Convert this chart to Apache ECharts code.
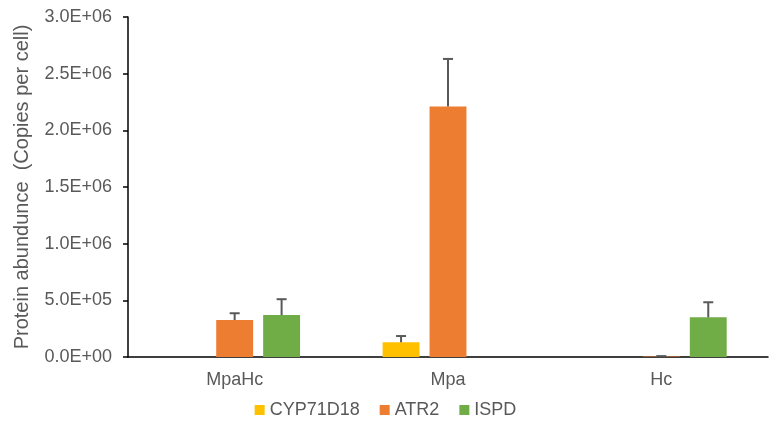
<!DOCTYPE html>
<html>
<head>
<meta charset="utf-8">
<script src="https://cdn.jsdelivr.net/npm/echarts@6/dist/echarts.min.js"></script>
<style>
  html, body { margin: 0; padding: 0; background: #fff; }
  #chart { width: 771px; height: 430px; }
</style>
</head>
<body>
<div id="chart"></div>
<script>
// Sample groups on the x axis
const categories = ['MpaHc', 'Mpa', 'Hc'];
// Protein abundance (copies per cell) and standard deviations
const cyp71d18 = [0, 130000, 0];
const cyp71d18Err = [0, 55000, 0];
const atr2 = [326000, 2210000, 5000];
const atr2Err = [60000, 420000, 3000];
const ispd = [370000, 0, 350000];
const ispdErr = [140000, 0, 133000];
const seriesNames = ['CYP71D18', 'ATR2', 'ISPD'];
const colors = ['#FFC000', '#ED7D31', '#70AD47'];

const BAR_FRAC = 0.173;   // bar width as share of the category band
const GAP_FRAC = 0.047;   // space between neighbouring bars in a group

function sci(v) {
  if (v === 0) return '0.0E+00';
  const e = Math.floor(Math.log10(v));
  const m = v / Math.pow(10, e);
  const es = (e < 10 ? '0' : '') + e;
  return m.toFixed(1) + 'E+' + es;
}

function errorSeries(values, errs, idx) {
  return {
    type: 'custom',
    name: seriesNames[idx] + ' error',
    z: 5,
    silent: true,
    data: values.map((v, i) => [i, v, errs[i]]),
    renderItem: function (params, api) {
      const ci = api.value(0);
      const v = api.value(1);
      const err = api.value(2);
      if (v === 0 && err === 0) return null;
      const band = api.size([1, 0])[0];
      const offset = (idx - 1) * (BAR_FRAC + GAP_FRAC) * band;
      const base = api.coord([ci, v]);
      const top = api.coord([ci, v + err]);
      const x = base[0] + offset;
      const cap = 5;
      const style = { stroke: '#595959', lineWidth: 2 };
      return {
        type: 'group',
        children: [
          { type: 'line', shape: { x1: x, y1: base[1], x2: x, y2: top[1] }, style: style },
          { type: 'line', shape: { x1: x - cap, y1: top[1], x2: x + cap, y2: top[1] }, style: style }
        ]
      };
    }
  };
}

const chart = echarts.init(document.getElementById('chart'));
const bars = [cyp71d18, atr2, ispd].map((d, i) => ({
  type: 'bar',
  name: seriesNames[i],
  data: d,
  barWidth: (BAR_FRAC * 100) + '%',
  barGap: ((GAP_FRAC / BAR_FRAC) * 100) + '%',
  itemStyle: { color: colors[i] }
}));

chart.setOption({
  animation: false,
  textStyle: { fontFamily: 'Liberation Sans, Arial, sans-serif' },
  grid: { left: 128, right: 3, top: 17, bottom: 73 },
  legend: {
    top: 396,
    left: 'center',
    itemWidth: 10,
    itemHeight: 10,
    itemGap: 20,
    icon: 'rect',
    data: seriesNames,
    textStyle: { color: '#595959', fontSize: 18 }
  },
  xAxis: {
    type: 'category',
    data: categories,
    axisLine: { lineStyle: { color: '#000', width: 1.5 } },
    axisTick: { show: false },
    axisLabel: { color: '#595959', fontSize: 18, margin: 14 }
  },
  yAxis: {
    type: 'value',
    min: 0,
    max: 3000000,
    interval: 500000,
    name: 'Protein abundunce  (Copies per cell)',
    nameLocation: 'middle',
    nameGap: 96,
    nameTextStyle: { color: '#595959', fontSize: 20 },
    axisLine: { show: true, lineStyle: { color: '#000', width: 1.5 } },
    axisTick: { show: true, length: 5, lineStyle: { color: '#000', width: 1.5 } },
    splitLine: { show: false },
    axisLabel: { color: '#595959', fontSize: 18, margin: 16, formatter: sci }
  },
  series: bars.concat([
    errorSeries(cyp71d18, cyp71d18Err, 0),
    errorSeries(atr2, atr2Err, 1),
    errorSeries(ispd, ispdErr, 2)
  ])
});
</script>
</body>
</html>
